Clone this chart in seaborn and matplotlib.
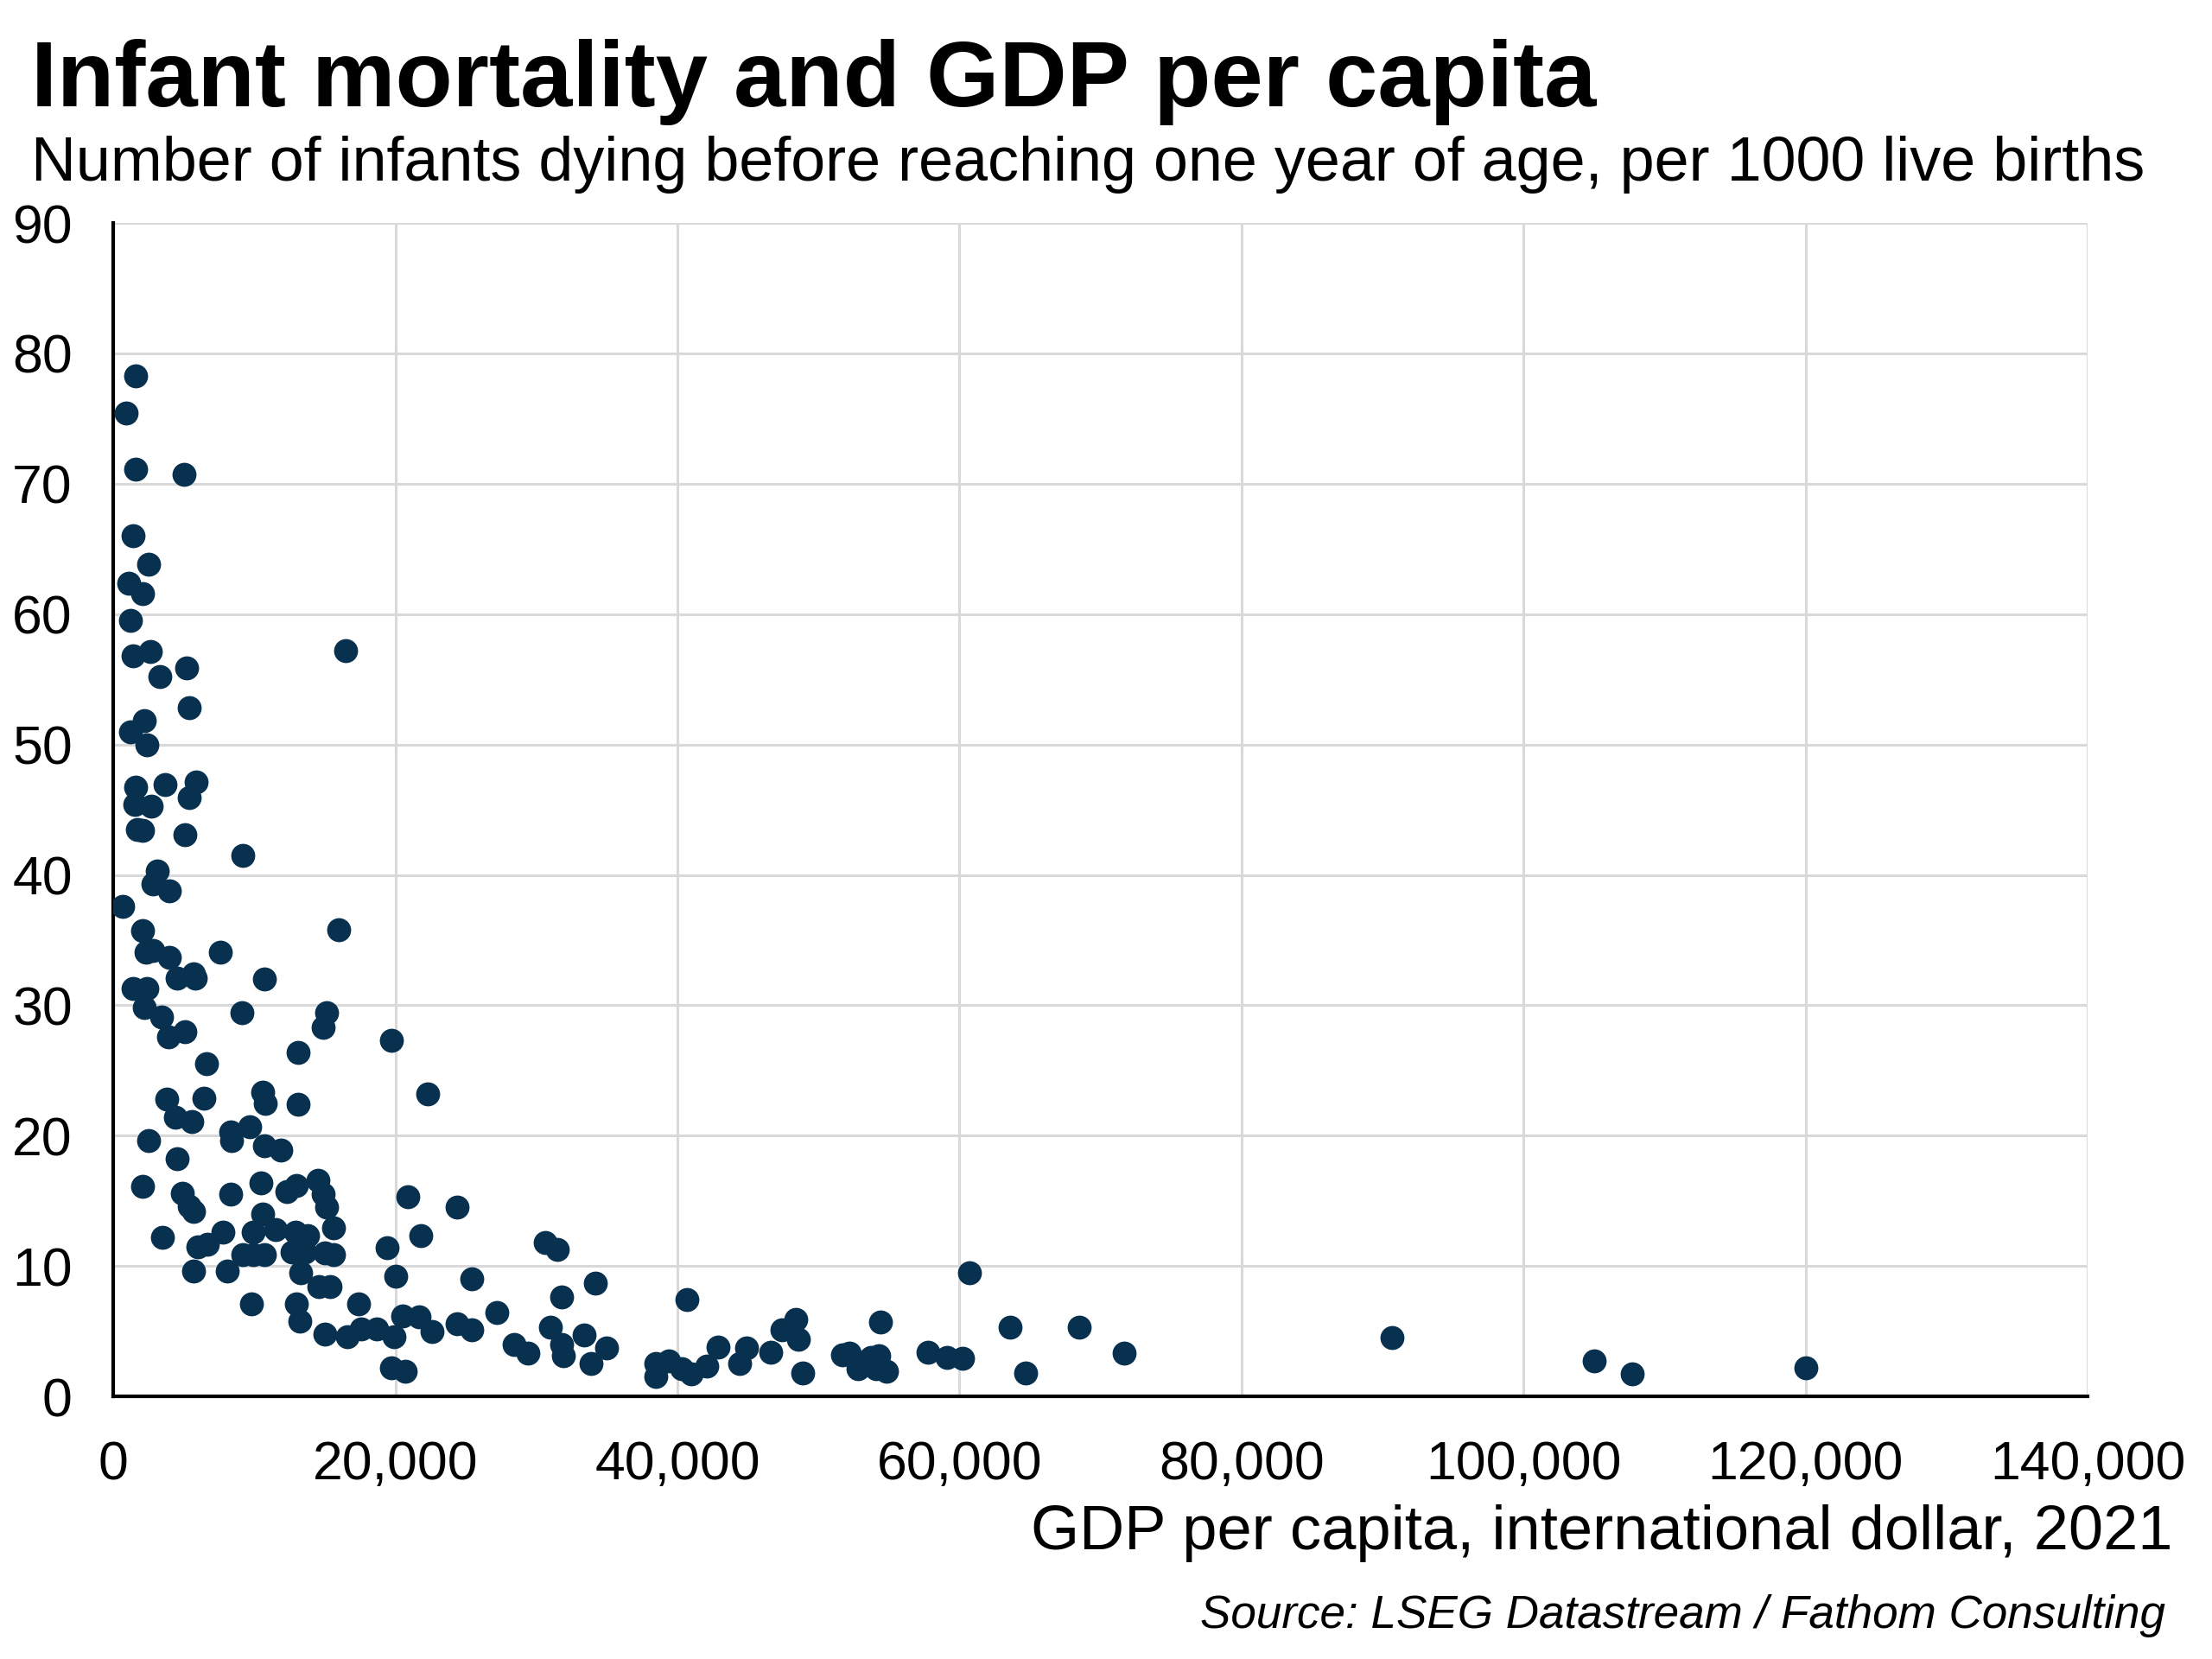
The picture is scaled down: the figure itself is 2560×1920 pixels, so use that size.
import matplotlib
matplotlib.use("Agg")
import matplotlib.pyplot as plt
import pandas as pd
import seaborn as sns

# GDP per capita (international dollar, 2021) and infant mortality (per 1000 live births)
gdp_low = [1600, 900, 1600, 5000, 1400, 2500, 1100, 2100, 1200, 1400, 2600, 16500,
           3300, 5200, 5400, 2200, 1200, 2400, 1600, 3700, 5900, 1500, 2700, 5400,
           1700, 2100, 5100, 9200]
mort_low = [78.3, 75.4, 71.1, 70.7, 66.0, 63.8, 62.4, 61.6, 59.5, 56.8, 57.1, 57.2,
            55.2, 55.9, 52.8, 51.8, 51.0, 50.0, 46.7, 46.9, 47.1, 45.4, 45.3, 45.9,
            43.5, 43.4, 43.1, 41.5]

gdp_mid = [3100, 2800, 4000, 700, 16000, 2100, 2300, 2800, 7600, 4000, 4500, 5700,
           5800, 10700, 1400, 2400, 2200, 3400, 9100, 15100, 14900, 3900, 5100, 19700,
           13100, 6600, 10600, 10800, 22300, 13100, 3800, 6400, 4400, 5600, 8300, 8400,
           9700, 2500, 10700, 11900, 4500, 2100, 4900, 5400, 5700, 8300, 10500, 12300,
           13000, 14500, 14900, 15100, 20900, 10600, 3500, 6000, 6700, 7800, 9900, 11500,
           12900, 13800, 15600, 9200, 9900, 10700, 12700, 13600, 15000, 15600, 19400, 21800,
           5700, 8100, 13300, 20000, 14600, 15400, 9800, 13000, 13200, 17400, 20500, 21700,
           22600, 15000, 16600, 17600, 18700, 19900, 19700, 20700]
mort_mid = [40.3, 39.3, 38.8, 37.6, 35.8, 35.7, 34.1, 34.2, 34.1, 33.7, 32.1, 32.4,
            32.1, 32.0, 31.3, 31.3, 29.8, 29.1, 29.4, 29.4, 28.3, 27.6, 28.0, 27.3,
            26.4, 25.5, 23.3, 22.5, 23.2, 22.4, 22.8, 22.9, 21.4, 21.1, 20.3, 19.6,
            20.7, 19.6, 19.2, 18.9, 18.2, 16.1, 15.6, 14.6, 14.2, 15.5, 16.4, 15.7,
            16.2, 16.6, 15.5, 14.5, 15.3, 14.0, 12.2, 11.5, 11.7, 12.6, 12.6, 12.8,
            12.6, 12.3, 12.9, 10.9, 10.9, 10.9, 11.1, 11.1, 11.0, 10.9, 11.4, 12.3,
            9.6, 9.6, 9.5, 9.2, 8.4, 8.4, 7.1, 7.1, 5.8, 7.1, 6.2, 6.1,
            5.0, 4.8, 4.6, 5.2, 5.2, 4.6, 2.2, 1.9]

gdp_high = [24400, 30600, 31500, 25400, 34200, 31800, 40700, 27200, 24400, 25400, 31000, 33400,
            28400, 29400, 31800, 31900, 33900, 35000, 38500, 38500, 39400, 40300, 41000, 42100,
            42900, 44400, 44900, 46600, 47400, 48400, 48600, 48900, 60700, 63600, 68500, 71700,
            64700, 57800, 59100, 60200, 54400, 51700, 52200, 52800, 53700, 54300, 54100, 54800,
            90700, 105000, 107700, 120000]
mort_high = [14.5, 11.8, 11.3, 9.0, 8.7, 7.6, 7.4, 6.4, 5.6, 5.1, 5.3, 4.7,
             4.0, 3.3, 4.0, 3.1, 2.5, 3.7, 2.5, 1.5, 2.7, 2.1, 1.7, 2.3,
             3.8, 2.5, 3.7, 3.4, 5.1, 5.9, 4.4, 1.8, 9.5, 5.3, 5.3, 3.3,
             1.8, 3.4, 3.0, 2.9, 5.7, 3.2, 3.3, 2.1, 3.0, 3.1, 2.1, 1.9,
             4.5, 2.7, 1.7, 2.2]

x_ticks = [0, 20000, 40000, 60000, 80000, 100000, 120000, 140000]
y_ticks = [0, 10, 20, 30, 40, 50, 60, 70, 80, 90]

title = "Infant mortality and GDP per capita"
subtitle = "Number of infants dying before reaching one year of age, per 1000 live births"
x_label = "GDP per capita, international dollar, 2021"
source = "Source: LSEG Datastream / Fathom Consulting"


def main():
    sns.set_style("white")
    plt.rcParams['font.family'] = ['Liberation Sans', 'DejaVu Sans']
    plt.rcParams['text.color'] = 'black'

    df = pd.DataFrame({
        'gdp': gdp_low + gdp_mid + gdp_high,
        'mortality': mort_low + mort_mid + mort_high,
    })

    fig = plt.figure(figsize=(12.8, 9.6), dpi=200)
    ax = fig.add_axes([0.0512, 0.1583, 0.8926, 0.7073])

    sns.scatterplot(data=df, x='gdp', y='mortality', ax=ax, color='#08304f',
                    s=100, linewidth=0, zorder=3)

    ax.set_xlim(0, 140000)
    ax.set_ylim(0, 90)
    ax.set_xticks(x_ticks)
    ax.set_xticklabels([f'{v:,}' for v in x_ticks])
    ax.set_yticks(y_ticks)
    ax.set_xlabel('')
    ax.set_ylabel('')

    ax.grid(True, color='#d9d9d9', linewidth=1.1)
    ax.set_axisbelow(True)
    for side in ['top', 'right']:
        ax.spines[side].set_visible(False)
    for side in ['left', 'bottom']:
        ax.spines[side].set_color('black')
        ax.spines[side].set_linewidth(1.5)
    ax.tick_params(axis='both', which='major', labelsize=22.5, length=6, width=1.3,
                   color='black', direction='out', labelcolor='black')
    ax.tick_params(axis='y', pad=11)
    ax.tick_params(axis='x', pad=12)

    fig.text(0.014, 0.936, title, fontsize=39, fontweight='bold', ha='left', va='baseline')
    fig.text(0.014, 0.891, subtitle, fontsize=25.9, ha='left', va='baseline')
    fig.text(0.982, 0.0757, x_label, fontsize=26, ha='right', va='center')
    fig.text(0.979, 0.026, source, fontsize=19.1, style='italic', ha='right', va='center')

    fig.savefig('out.png', dpi=200)
    plt.close(fig)


if __name__ == "__main__":
    main()
